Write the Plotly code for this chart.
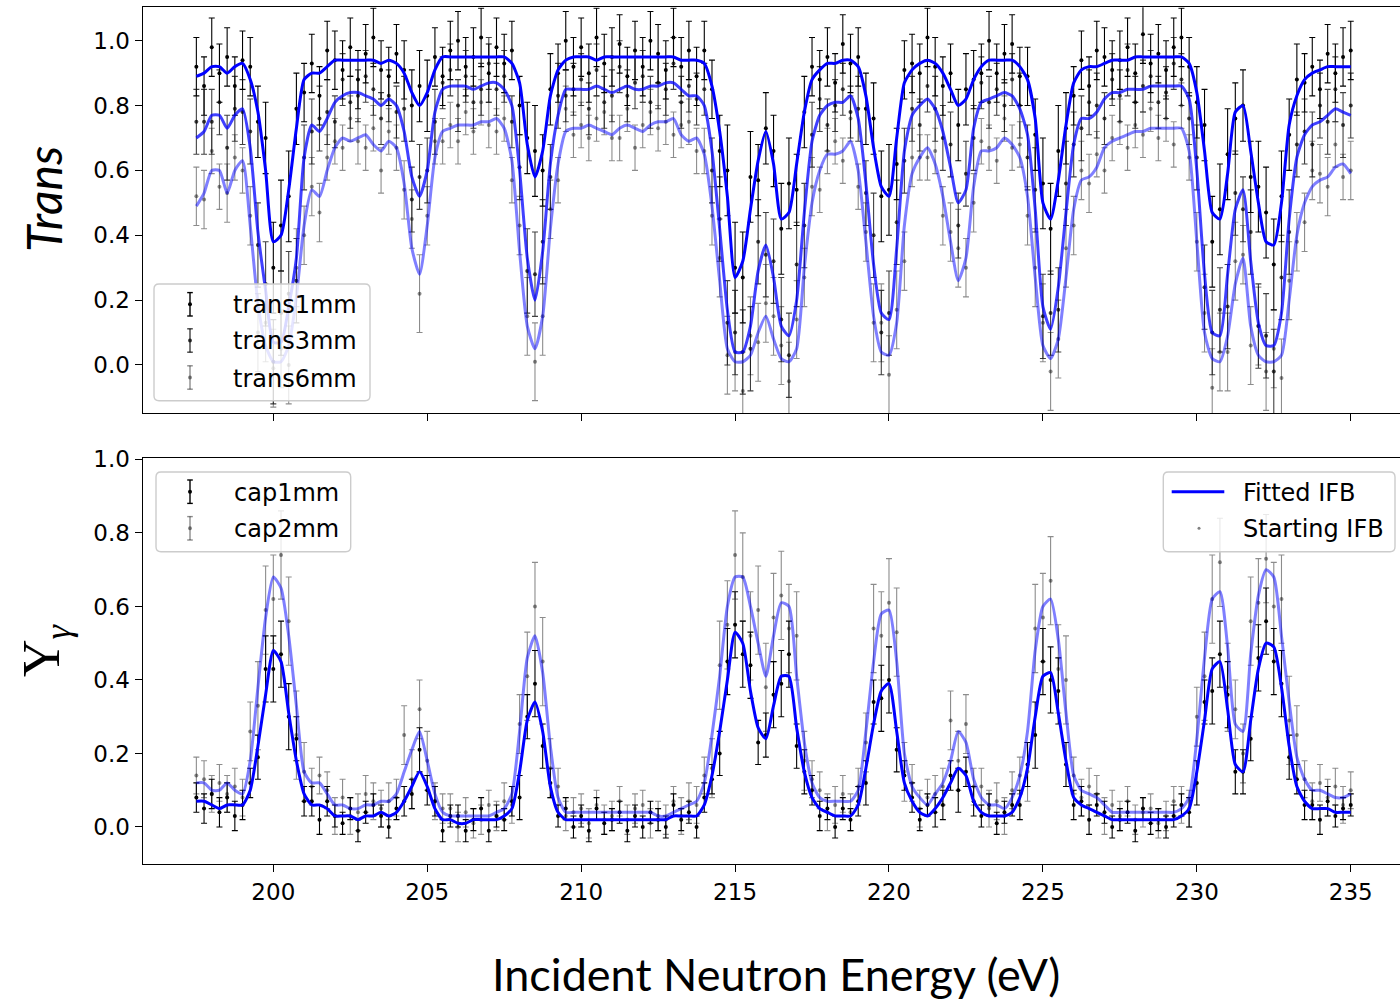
import plotly.graph_objects as go

W, H = 1400, 1001

# ---------------- data (energy grid in eV) ----------------
ENERGY = [round(197.5 + 0.25 * i, 2) for i in range(151)]

# measured transmission, values x100
trans1mm_x100 = [92,86,98,90,95,86,94,92,75,70, 30,43,52,79,84,93,83,97,94,91,
                 98,88,96,101,91,89,96,91,80,86, 83,95,89,97,100,92,95,101,90,98,
                 93,97,80,70,66,60,85,90,100,92, 98,90,101,93,95,99,89,97,92,100,
                 96,91,101,92,97,89,97,85,66,60, 30,27,58,57,73,66,42,56,54,78,
                 92,88,95,87,99,93,95,79,76,52, 54,62,91,93,90,101,92,86,90,74,
                 85,88,90,100,90,96,99,89,89,71, 56,42,66,73,83,94,86,97,95,91,
                 94,98,90,102,93,96,91,98,101,92, 81,74,38,48,65,76,80,58,55,47,
                 31,52,71,88,87,92,85,96,90,95, 97]
trans1mm_err_x100 = [9,9,9,9,9,9,9,9,11,11, 14,14,14,11,9,9,9,9,9,9,
                     9,9,9,9,9,9,9,9,11,11, 11,9,9,9,9,9,9,9,9,9,
                     9,9,9,11,14,11,11,9,9,9, 9,9,9,9,9,9,9,9,9,9,
                     9,9,9,9,9,9,9,9,11,14, 14,14,14,11,11,11,14,14,11,11,
                     9,9,9,9,9,9,9,11,11,14, 14,11,9,9,9,9,9,9,9,11,
                     11,9,9,9,9,9,9,9,9,11, 14,14,14,11,9,9,9,9,9,9,
                     9,9,9,9,9,9,9,9,9,9, 11,11,14,14,14,11,11,11,14,14,
                     14,14,11,11,9,9,9,9,9,9, 9]
trans3mm_x100 = [75,75,75,81,67,79,78,72,37,25, 1,16,22,26,64,72,76,78,75,88,
                 81,83,89,85,76,83,78,79,51,58, 60,75,87,91,80,89,81,85,93,85,
                 89,75,61,29,28,38,58,83,83,85, 88,79,91,81,83,92,83,87,89,81,
                 87,85,93,81,86,82,85,60,45,13, 10,4,5,38,34,32,14,3,31,43,
                 71,82,74,80,85,78,79,53,40,10, 16,44,63,79,74,86,79,70,68,43,
                 59,70,87,81,85,80,88,80,64,54, 15,16,17,56,68,73,81,80,76,88,
                 83,91,81,86,89,81,84,93,88,76, 64,24,10,17,18,53,48,41,12,9,
                 -2,27,41,68,72,68,80,75,85,74, 80]
trans3mm_err_x100 = [10,10,10,10,10,10,10,10,13,13, 13,13,13,13,10,10,10,10,8,8,
                     8,8,8,8,8,8,8,10,10,10, 10,10,8,8,8,8,8,8,8,8,
                     8,8,10,13,13,13,10,10,8,8, 8,8,8,8,8,8,8,8,8,8,
                     8,8,8,8,8,8,8,10,13,13, 13,13,13,13,13,13,13,13,13,13,
                     10,10,8,8,8,8,10,10,13,13, 13,13,10,10,8,8,10,10,10,10,
                     10,10,8,8,8,8,8,10,10,13, 13,13,13,13,10,10,10,10,8,8,
                     8,8,8,8,8,8,8,8,8,8, 10,13,13,13,13,13,10,13,13,13,
                     13,13,13,10,10,10,10,10,10,10, 10]
trans6mm_x100 = [52,51,66,55,53,64,60,46,10,13, -1,5,0,30,40,55,47,64,69,67,
                 76,69,67,73,60,72,67,54,45,22, 46,69,69,74,69,78,72,81,74,72,
                 76,57,43,15,1,15,48,57,79,71, 74,70,76,78,70,70,79,67,74,78,
                 73,75,71,74,75,66,66,46,33,3, 4,-8,9,7,19,15,6,-5,14,27,
                 55,54,66,69,63,76,55,41,13,13, -3,17,32,64,64,64,66,46,41,36,
                 30,50,69,67,63,76,67,68,46,30, 13,-2,8,36,43,60,56,65,60,70,
                 75,67,74,71,79,70,76,68,80,64, 38,16,-7,4,4,32,34,6,12,-2,
                 5,-4,26,38,44,60,59,55,68,58, 60]
trans6mm_err_x100 = [9,9,7,7,9,7,7,9,12,12, 12,12,12,12,9,9,9,7,7,7,
                     7,7,7,7,7,7,7,9,9,12, 9,7,7,7,7,7,7,7,7,7,
                     7,7,9,12,12,12,9,7,7,7, 7,7,7,7,7,7,7,7,7,7,
                     7,7,7,7,7,7,7,9,12,12, 12,12,12,12,12,12,12,12,12,9,
                     9,7,7,7,7,7,7,9,12,12, 12,12,9,9,7,7,7,9,9,12,
                     9,9,7,7,7,7,7,7,9,12, 12,12,12,12,9,9,9,7,7,7,
                     7,7,7,7,7,7,7,7,7,7, 9,12,12,12,12,12,9,12,12,12,
                     12,12,12,9,9,9,9,9,7,7, 9]

# measured capture yield, values x100
cap1mm_x100 = [8,5,9,4,8,3,6,12,19,43, 43,47,30,24,7,7,2,7,3,1,
               5,-1,4,6,3,0,5,7,9,21, 10,7,-1,3,3,-1,2,5,-1,3,
               2,7,8,30,39,22,12,3,5,0, 3,-1,5,1,2,4,-1,3,0,4,
               2,0,6,2,4,0,8,13,20,45, 55,47,44,23,25,36,39,47,22,15,
               10,3,5,0,5,2,7,12,34,35, 40,21,14,8,2,6,4,6,14,10,
               15,7,3,6,1,4,6,6,17,25, 45,40,37,17,6,7,2,6,4,0,
               2,4,-1,5,1,2,0,3,6,4, 12,34,37,47,36,15,15,24,46,56,
               45,39,19,13,6,6,2,7,3,5, 6]
cap1mm_err_x100 = [4,4,4,4,4,4,4,4,6,9, 9,9,9,6,4,4,4,4,3,3,
                   3,3,3,3,3,3,3,4,4,6, 4,4,3,3,3,3,3,3,3,3,
                   3,4,6,6,9,6,4,3,3,3, 3,3,3,3,3,3,3,3,3,3,
                   3,3,3,3,3,3,4,4,6,9, 9,9,9,6,6,9,9,9,6,6,
                   4,4,3,3,3,3,4,6,6,9, 9,6,4,4,3,3,4,4,4,6,
                   4,4,3,3,3,3,3,4,6,9, 9,9,9,6,4,4,4,3,3,3,
                   3,3,3,3,3,3,3,3,3,4, 6,6,9,9,9,6,6,6,9,9,
                   9,9,6,4,4,4,4,4,3,3, 3]
cap2mm_x100 = [14,13,9,12,9,11,8,26,33,59, 62,74,56,25,15,11,14,10,3,8,
               3,4,9,7,5,7,8,25,13,32, 18,7,5,5,0,4,1,2,6,3,
               7,6,28,41,60,45,16,11,3,4, 5,1,6,2,3,7,2,5,6,1,
               3,2,7,3,7,6,14,16,44,55, 74,68,52,59,38,57,63,54,52,18,
               13,10,4,6,9,4,11,23,54,52, 61,53,15,12,5,8,9,11,29,18,
               28,11,11,5,7,3,10,14,15,54, 57,67,43,40,14,8,11,9,3,6,
               3,7,2,4,5,1,3,7,6,5, 30,41,62,72,38,32,20,56,61,73,
               60,62,29,25,13,7,12,8,11,6, 10]
cap2mm_err_x100 = [5,5,5,5,5,5,5,8,12,12, 12,12,12,12,8,5,5,5,5,5,
                   5,5,5,5,5,5,5,8,8,8, 8,5,4,4,4,4,4,4,4,4,
                   5,5,8,12,12,12,8,5,4,4, 4,4,4,4,4,4,4,4,4,4,
                   4,4,4,5,5,5,5,8,12,12, 12,12,12,12,12,12,12,12,12,8,
                   5,5,5,5,5,5,5,8,12,12, 12,12,8,5,5,5,5,5,8,8,
                   8,5,5,5,5,5,5,5,8,12, 12,12,12,12,5,5,5,5,5,4,
                   4,4,4,4,4,4,4,4,5,5, 8,12,12,12,12,8,8,12,12,12,
                   12,12,12,8,5,5,5,5,5,5, 5]

# fitted IFB curves, values x100
fit_trans1mm_x100 = [89,90,92,92,90,92,93,88,78,60, 38,40,54,73,88,90,90,92,94,94,
                     94,94,94,94,93,94,93,90,84,80, 84,91,95,95,95,95,95,95,95,95,
                     95,93,87,68,58,66,83,91,94,95, 95,95,94,95,95,95,95,95,95,95,
                     95,95,95,94,94,94,93,86,72,52, 27,32,48,63,72,62,45,47,62,78,
                     88,91,93,93,94,94,92,83,67,55, 52,70,87,91,93,94,93,90,85,80,
                     82,88,92,94,94,94,94,92,88,76, 50,45,57,74,87,91,92,92,93,94,
                     94,94,95,95,95,95,95,95,95,93, 84,66,47,45,59,78,80,66,50,38,
                     37,50,74,83,88,90,91,92,92,92, 92]
fit_trans3mm_x100 = [70,72,77,77,73,77,79,67,41,23, 7,7,18,33,64,74,72,76,81,83,
                     84,84,83,82,80,82,80,72,58,52, 60,78,85,86,86,86,85,86,87,87,
                     85,80,60,33,20,35,62,77,85,85, 85,85,86,85,84,85,86,85,85,86,
                     86,87,87,85,83,83,80,66,42,17, 4,4,12,29,37,27,12,9,20,47,
                     69,77,80,81,81,83,76,56,31,16, 14,36,66,77,80,82,79,72,61,50,
                     54,73,81,82,83,84,83,79,71,48, 18,11,24,47,68,76,76,78,82,84,
                     84,85,85,85,86,86,86,86,86,82, 60,28,10,9,28,48,54,32,13,6,
                     6,16,45,64,71,74,75,77,79,78, 77]
fit_trans6mm_x100 = [49,53,60,60,53,60,63,43,19,6, 1,1,6,21,43,54,52,60,67,70,
                     69,70,71,68,66,69,67,56,36,28, 43,64,72,73,74,74,74,75,75,76,
                     73,63,35,12,5,15,42,62,72,73, 73,74,73,72,71,73,74,73,72,74,
                     75,75,76,71,69,70,65,49,26,5, 1,1,3,10,15,8,2,1,5,30,
                     50,60,65,65,66,69,60,38,15,4, 3,13,43,59,64,67,62,52,38,26,
                     33,55,66,66,67,70,68,64,52,27, 6,2,8,27,48,57,58,61,67,69,
                     70,71,72,72,73,73,73,73,73,66, 38,10,2,1,9,25,33,12,3,1,
                     1,3,20,40,50,55,57,58,61,62, 59]
fit_cap1mm_x100 = [7,7,6,5,6,6,6,10,22,36, 48,45,31,18,9,6,6,5,3,3,
                   3,2,3,3,4,3,4,7,11,15, 11,5,2,2,1,1,2,2,2,2,
                   3,5,15,29,34,26,11,4,2,2, 2,2,2,2,2,2,2,2,2,2,
                   2,2,3,3,3,3,6,14,26,40, 53,50,37,27,24,33,41,41,27,15,
                   8,5,4,3,3,3,6,16,28,37, 39,26,12,7,4,3,5,8,12,16,
                   14,7,4,3,3,3,4,8,16,30, 41,42,31,18,8,6,5,4,3,2,
                   2,2,2,2,2,2,2,2,3,5, 15,29,43,45,32,17,15,29,43,50,
                   49,38,22,11,7,5,5,5,4,4, 4]
fit_cap2mm_x100 = [12,12,10,10,12,10,9,18,38,57, 68,65,52,33,15,12,12,9,6,6,
                   5,5,6,6,7,7,9,15,21,26, 18,9,4,3,3,3,3,3,3,4,
                   5,9,26,46,52,42,22,8,4,4, 4,4,4,4,4,4,4,4,4,4,
                   3,3,4,5,6,7,12,25,41,60, 68,68,60,50,41,52,61,60,41,23,
                   12,8,7,7,7,7,10,26,45,58, 59,45,20,11,8,6,9,12,18,26,
                   23,13,8,6,6,5,8,14,26,48, 60,62,51,31,14,10,9,8,6,4,
                   4,4,4,4,4,4,4,4,5,8, 24,46,62,64,49,28,26,47,63,70,
                   68,52,34,19,13,10,10,9,8,8, 9]

X_TICKS = [200, 205, 210, 215, 220, 225, 230, 235]
Y_TICKS = [0.0, 0.2, 0.4, 0.6, 0.8, 1.0]
Y_TICK_TEXT = ["0.0", "0.2", "0.4", "0.6", "0.8", "1.0"]


def s(vals):
    return [v / 100 for v in vals]


def px(x):
    """screen x (px) -> paper fraction"""
    return x / W


def py(y):
    """screen y (px) -> paper fraction"""
    return 1 - y / H


fig = go.Figure()

BLACK = "rgb(0,0,0)"
BLACK75 = "rgba(0,0,0,0.75)"
BLACK45 = "rgba(0,0,0,0.45)"


def data_trace(y, err, color, xa, ya, name):
    return go.Scatter(
        x=ENERGY, y=s(y), mode="markers", name=name, showlegend=False,
        marker=dict(size=4, color=color),
        error_y=dict(type="data", array=s(err), color=color, thickness=1.1, width=3),
        xaxis=xa, yaxis=ya,
    )


def fit_trace(y, color, xa, ya, name):
    return go.Scatter(
        x=ENERGY, y=s(y), mode="lines", name=name, showlegend=False,
        line=dict(color=color, width=3, shape="spline", smoothing=0.6),
        xaxis=xa, yaxis=ya,
    )


fig.add_trace(data_trace(trans6mm_x100, trans6mm_err_x100, BLACK45, "x", "y", "trans6mm"))
fig.add_trace(data_trace(trans3mm_x100, trans3mm_err_x100, BLACK75, "x", "y", "trans3mm"))
fig.add_trace(data_trace(trans1mm_x100, trans1mm_err_x100, BLACK, "x", "y", "trans1mm"))
fig.add_trace(fit_trace(fit_trans6mm_x100, "rgba(0,0,255,0.5)", "x", "y", "Fitted IFB 6mm"))
fig.add_trace(fit_trace(fit_trans3mm_x100, "rgba(0,0,255,0.75)", "x", "y", "Fitted IFB 3mm"))
fig.add_trace(fit_trace(fit_trans1mm_x100, "rgb(0,0,255)", "x", "y", "Fitted IFB 1mm"))

fig.add_trace(data_trace(cap2mm_x100, cap2mm_err_x100, BLACK45, "x2", "y2", "cap2mm"))
fig.add_trace(data_trace(cap1mm_x100, cap1mm_err_x100, BLACK, "x2", "y2", "cap1mm"))
fig.add_trace(fit_trace(fit_cap2mm_x100, "rgba(0,0,255,0.5)", "x2", "y2", "Fitted IFB cap 2mm"))
fig.add_trace(fit_trace(fit_cap1mm_x100, "rgb(0,0,255)", "x2", "y2", "Fitted IFB cap 1mm"))

TICKFONT = dict(family="DejaVu Sans", size=23, color="black")
X_DOMAIN = [px(142.7), 1.0]      # right edge of the panels is the picture edge
X_RANGE = [195.757, 236.60]

common_x = dict(
    domain=X_DOMAIN, range=X_RANGE, showline=True, linecolor="black", linewidth=1.3,
    mirror=True, ticks="outside", ticklen=7, tickwidth=1.3, tickcolor="black",
    tickvals=X_TICKS, showgrid=False, zeroline=False, tickfont=TICKFONT,
    automargin=False,
)
common_y = dict(
    showline=True, linecolor="black", linewidth=1.3, mirror=False,
    ticks="outside", ticklen=7, tickwidth=1.3, tickcolor="black",
    tickvals=Y_TICKS, ticktext=Y_TICK_TEXT, showgrid=False, zeroline=False,
    tickfont=TICKFONT, automargin=False,
)

fig.update_layout(
    width=W, height=H, margin=dict(l=0, r=0, t=0, b=0, pad=0), autosize=False,
    paper_bgcolor="white", plot_bgcolor="white", showlegend=False,
    xaxis=dict(common_x, anchor="y", showticklabels=False),
    yaxis=dict(common_y, anchor="x", domain=[py(413.3), py(7.3)], range=[-0.149, 1.103]),
    xaxis2=dict(common_x, anchor="y2", showticklabels=True),
    yaxis2=dict(common_y, anchor="x2", domain=[py(864.3), py(458.3)], range=[-0.1015, 1.003]),
)

# ---------------- axis titles ----------------
annotations = [
    dict(text="<i>Trans</i>", x=px(43), y=py(199), xref="paper", yref="paper",
         textangle=-90, showarrow=False, xanchor="center", yanchor="middle",
         font=dict(family="Lato", size=48, color="black")),
    dict(text="Y<sub><i>γ</i></sub>", x=px(45), y=py(650), xref="paper", yref="paper",
         textangle=-90, showarrow=False, xanchor="center", yanchor="middle",
         font=dict(family="Liberation Serif", size=52, color="black")),
    dict(text="Incident Neutron Energy (eV)", x=px(776), y=py(974), xref="paper", yref="paper",
         showarrow=False, xanchor="center", yanchor="middle",
         font=dict(family="Lato", size=45, color="black")),
]

shapes = []


def rounded_box(x0, y0, x1, y1, r=5):
    path = (
        f"M {px(x0 + r)} {py(y0)} L {px(x1 - r)} {py(y0)} Q {px(x1)} {py(y0)} {px(x1)} {py(y0 + r)} "
        f"L {px(x1)} {py(y1 - r)} Q {px(x1)} {py(y1)} {px(x1 - r)} {py(y1)} "
        f"L {px(x0 + r)} {py(y1)} Q {px(x0)} {py(y1)} {px(x0)} {py(y1 - r)} "
        f"L {px(x0)} {py(y0 + r)} Q {px(x0)} {py(y0)} {px(x0 + r)} {py(y0)} Z"
    )
    shapes.append(dict(type="path", path=path, xref="paper", yref="paper", layer="above",
                       fillcolor="rgba(255,255,255,0.8)",
                       line=dict(color="rgb(204,204,204)", width=1.4)))


def errbar_glyph(cx, cy, color):
    half, cap, dot = 11.7, 2.8, 2.0
    for (xa, ya, xb, yb) in [(cx, cy - half, cx, cy + half),
                             (cx - cap, cy - half, cx + cap, cy - half),
                             (cx - cap, cy + half, cx + cap, cy + half)]:
        shapes.append(dict(type="line", xref="paper", yref="paper", layer="above",
                           x0=px(xa), y0=py(ya), x1=px(xb), y1=py(yb),
                           line=dict(color=color, width=1.4)))
    shapes.append(dict(type="circle", xref="paper", yref="paper", layer="above",
                       x0=px(cx - dot), x1=px(cx + dot), y0=py(cy - dot), y1=py(cy + dot),
                       fillcolor=color, line=dict(width=0)))


def legend_text(text, x, y):
    annotations.append(dict(text=text, x=px(x), y=py(y), xref="paper", yref="paper",
                            showarrow=False, xanchor="left", yanchor="middle",
                            font=dict(family="DejaVu Sans", size=24, color="black")))


# legend: transmission
rounded_box(154, 284, 370, 400.7)
for name, cy, col in [("trans1mm", 304.3, BLACK), ("trans3mm", 340.5, BLACK75),
                      ("trans6mm", 377.5, BLACK45)]:
    errbar_glyph(190, cy, col)
    legend_text(name, 231, cy + 1)

# legend: capture
rounded_box(156, 472, 350.7, 551.7)
for name, cy, col in [("cap1mm", 491.7, BLACK), ("cap2mm", 528.3, BLACK45)]:
    errbar_glyph(190, cy, col)
    legend_text(name, 232, cy + 1)

# legend: fit
rounded_box(1163.3, 472, 1395, 551.7)
shapes.append(dict(type="line", xref="paper", yref="paper", layer="above",
                   x0=px(1171.7), x1=px(1224.3), y0=py(491.7), y1=py(491.7),
                   line=dict(color="rgb(0,0,255)", width=3)))
shapes.append(dict(type="circle", xref="paper", yref="paper", layer="above",
                   x0=px(1197.5), x1=px(1200.5), y0=py(526.8), y1=py(529.8),
                   fillcolor="rgb(128,128,128)", line=dict(width=0)))
legend_text("Fitted IFB", 1241, 492.7)
legend_text("Starting IFB", 1241, 529.3)

fig.update_layout(annotations=annotations, shapes=shapes)

# the page body has a default 8px margin; remove it so the figure fills the window
fig.write_html(
    "out.html",
    config={"displayModeBar": False},
    post_script="document.body.style.margin='0';document.body.style.overflow='hidden';",
)
